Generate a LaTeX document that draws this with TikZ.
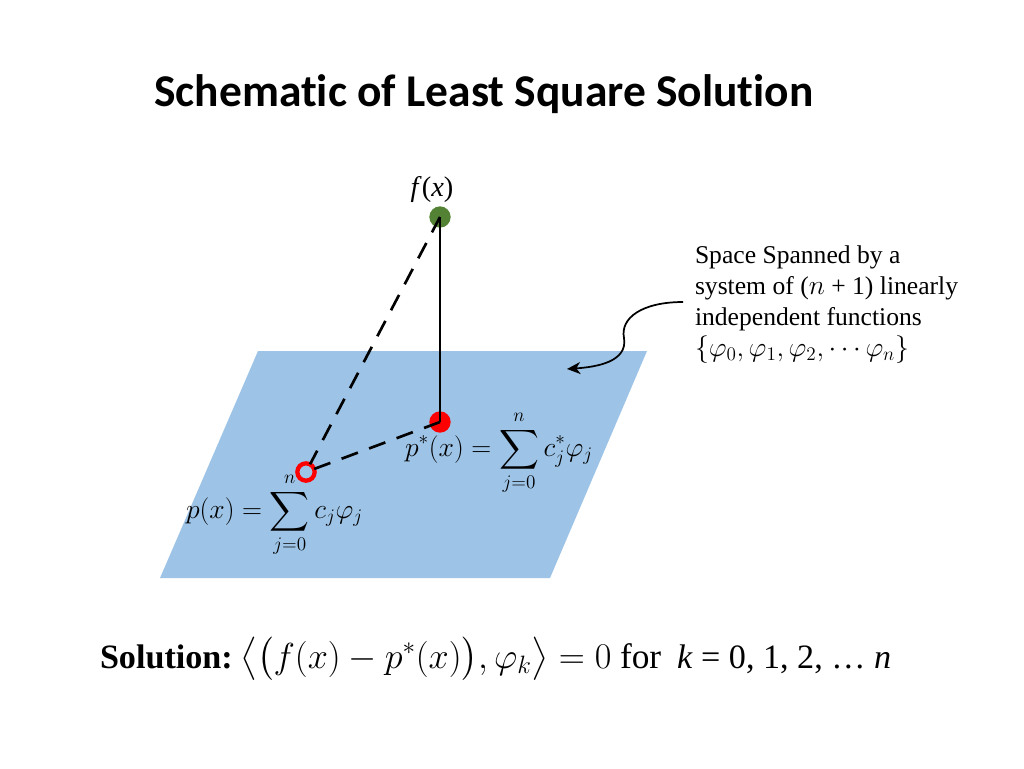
\documentclass[tikz,border=0pt]{standalone}
\usepackage{amsmath}
\usepackage{graphicx}
\usepackage{fontspec}
\setmainfont{Liberation Serif}
\newfontfamily\titlefont[Ligatures=NoCommon]{Carlito}
\usetikzlibrary{arrows.meta}
\definecolor{planeblue}{HTML}{9DC3E6}
\definecolor{dotgreen}{HTML}{548235}
\definecolor{dotred}{HTML}{FF0000}
\tikzset{
  every node/.style={inner sep=0pt, outer sep=0pt},
  plane/.style={fill=planeblue, draw=none},
  fdot/.style={circle, fill=dotgreen, minimum size=16, draw=none},
  psdot/.style={circle, fill=dotred, minimum size=16, draw=none},
  pcirc/.style={circle, draw=dotred, line width=3.2, minimum size=13, fill=none},
  perp/.style={line width=2},
  dashline/.style={line width=2, dash pattern=on 13 off 9},
  callout/.style={line width=1.3, -{Stealth[length=10, width=9, inset=3]}},
  lbl/.style={font=\fontsize{19.2}{23}\selectfont},
  soltext/.style={anchor=base west, font=\fontsize{26.5}{31}\selectfont},
}
\begin{document}
\begin{tikzpicture}[x=0.75pt, y=-0.75pt]
\useasboundingbox (0,0) rectangle (1024,768);
% title
\node[anchor=base, font=\titlefont\bfseries\fontsize{34.1}{40}\selectfont] (title) at (484,106) {Schematic of Least Square Solution};
% plane
\path[plane] (258,351) -- (647,351) -- (550,578) -- (160,578) -- cycle;
% points
\node[fdot] (f) at (440,217) {};
\node[psdot] (ps) at (440,422) {};
\node[pcirc] (p) at (306,472) {};
\node[anchor=base, font=\fontsize{21.3}{25}\selectfont] (flbl) at (432,196) {\textit{f}(\textit{x})};
% connectors
\draw[perp] (f.center) -- (ps.center);
\draw[dashline] (f.center) -- (p);
\draw[dashline] (p) -- (ps.center);
% labels
\node[lbl, anchor=west] (pslbl) at (405,453) {$\displaystyle p^*(x)=\sum_{j=0}^{n} c_j^*\varphi_j$};
\node[lbl, anchor=west] (plbl) at (186,515) {$\displaystyle p(x)=\sum_{j=0}^{n} c_j\varphi_j$};
% span text
\node[lbl, anchor=north west, align=left, font=\fontsize{19.2}{23.25}\selectfont] (span) at (695,246)
  {Space Spanned by a\\ system of ($n$ + 1) linearly\\ independent functions\\ $\{\varphi_0,\varphi_1,\varphi_2,\cdots\varphi_n\}$};
\coordinate (cs) at (683,302);
\coordinate (ce) at (567,369);
\draw[callout] (cs) .. controls (642,302) and (620,318) .. (624,338) .. controls (628,362) and (596,367) .. (ce);
% solution
\node[soltext, font=\bfseries\fontsize{25.6}{30}\selectfont] (sol) at (100,668) {Solution:};
\node[soltext, font=\fontsize{25.6}{30}\selectfont] (soleq) at (240,668) {\scalebox{1.09}{$\big\langle\big(f(x)-p^*(x)\big),\varphi_k\big\rangle=0$}};
\node[soltext] (solfor) at (620,668) {for};
\node[soltext, font=\fontsize{25.6}{30}\selectfont] (solk) at (677,668) {\textit{k} = 0, 1, 2, \dots\ \textit{n}};
\end{tikzpicture}
\end{document}
